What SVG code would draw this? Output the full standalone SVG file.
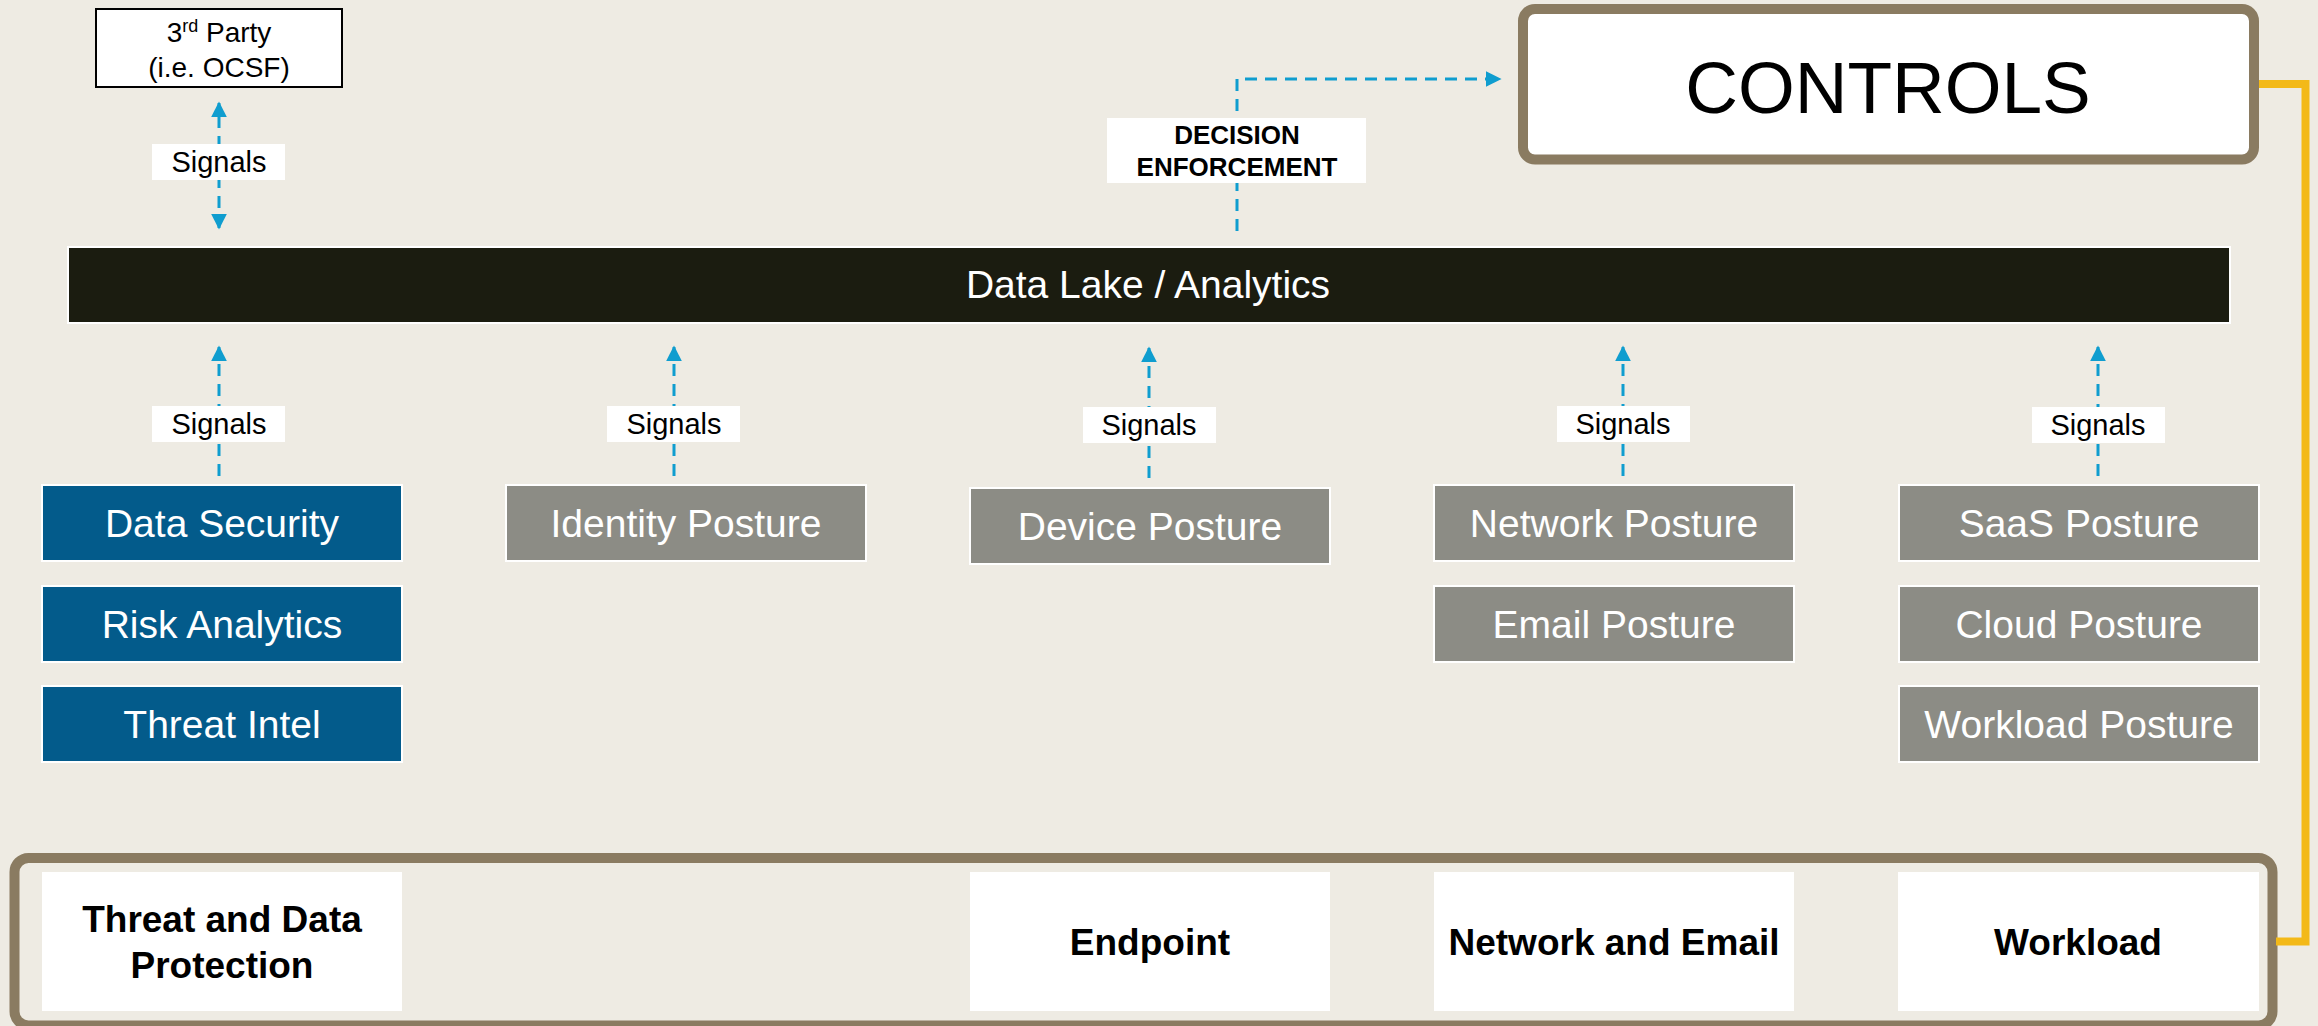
<svg xmlns="http://www.w3.org/2000/svg" width="2318" height="1026" viewBox="0 0 2318 1026">
  <defs>
    <marker id="tip" viewBox="0 0 10 10" refX="9" refY="5" markerWidth="16" markerHeight="16" markerUnits="userSpaceOnUse" orient="auto-start-reverse">
      <path d="M0,0 L10,5 L0,10 Z" fill="#0f9dcf"/>
    </marker>
    <style>
      text { font-family: "Liberation Sans", Arial, sans-serif; }
      .sig { stroke: #0f9dcf; stroke-width: 3; stroke-dasharray: 12 8; fill: none; }
      .lbl { fill: #ffffff; }
      .lbltxt { font-size: 29px; fill: #000; text-anchor: middle; }
      .blue { fill: #035b8b; stroke: #ffffff; stroke-width: 2; }
      .gray { fill: #8c8c85; stroke: #ffffff; stroke-width: 2; }
      .wtxt { font-size: 39px; fill: #ffffff; text-anchor: middle; }
      .btxt { font-size: 37px; font-weight: bold; fill: #000; text-anchor: middle; }
      .frame { fill: none; stroke: #8a7b61; stroke-width: 10; }
      .yel { fill: none; stroke: #f3b918; stroke-width: 8; stroke-linejoin: miter; }
    </style>
  </defs>

  <rect width="2318" height="1026" fill="#eeebe3"/>

  <!-- bottom frame -->
  <rect class="frame" x="14.5" y="858" width="2258" height="167.5" rx="14"/>

  <!-- connectors -->
  <g id="connectors">
    <path class="yel" d="M2255,84 H2305.5 V941.5 H2276"/>
    <line class="sig" x1="219" y1="228" x2="219" y2="103" marker-start="url(#tip)" marker-end="url(#tip)"/>
    <path class="sig" d="M1237,231 V79 H1500" marker-end="url(#tip)"/>
    <line class="sig" x1="219" y1="476" x2="219" y2="347" marker-end="url(#tip)"/>
    <line class="sig" x1="674" y1="476" x2="674" y2="347" marker-end="url(#tip)"/>
    <line class="sig" x1="1149" y1="478" x2="1149" y2="348" marker-end="url(#tip)"/>
    <line class="sig" x1="1623" y1="476" x2="1623" y2="347" marker-end="url(#tip)"/>
    <line class="sig" x1="2098" y1="476" x2="2098" y2="347" marker-end="url(#tip)"/>

    <!-- connector labels -->
    <rect class="lbl" x="152" y="144" width="133" height="36"/>
    <text class="lbltxt" x="219" y="172">Signals</text>
    <rect class="lbl" x="1107" y="118" width="259" height="65"/>
    <text x="1237" y="144" font-size="26" font-weight="bold" text-anchor="middle">DECISION</text>
    <text x="1237" y="176" font-size="26" font-weight="bold" text-anchor="middle">ENFORCEMENT</text>
    <rect class="lbl" x="152" y="406" width="133" height="36"/>
    <text class="lbltxt" x="219" y="434">Signals</text>
    <rect class="lbl" x="607" y="406" width="133" height="36"/>
    <text class="lbltxt" x="674" y="434">Signals</text>
    <rect class="lbl" x="1083" y="407" width="133" height="36"/>
    <text class="lbltxt" x="1149" y="435">Signals</text>
    <rect class="lbl" x="1557" y="406" width="133" height="36"/>
    <text class="lbltxt" x="1623" y="434">Signals</text>
    <rect class="lbl" x="2032" y="407" width="133" height="36"/>
    <text class="lbltxt" x="2098" y="435">Signals</text>
  </g>

  <g id="third-party">
    <rect x="96" y="9" width="246" height="78" fill="#ffffff" stroke="#000" stroke-width="2"/>
    <text x="219" y="42" font-size="28" text-anchor="middle">3<tspan font-size="18" dy="-10">rd</tspan><tspan dy="10"> Party</tspan></text>
    <text x="219" y="77" font-size="28" text-anchor="middle">(i.e. OCSF)</text>
  </g>

  <g id="controls">
    <rect x="1523" y="9" width="731" height="150.5" rx="12" fill="#ffffff" stroke="#8a7b61" stroke-width="10"/>
    <text x="1888" y="113" font-size="73" text-anchor="middle">CONTROLS</text>
  </g>

  <g id="data-lake">
    <rect x="68" y="247" width="2162" height="76" fill="#1b1c10" stroke="#ffffff" stroke-width="2"/>
    <text class="wtxt" x="1148" y="298">Data Lake / Analytics</text>
  </g>

  <g id="data-security">
    <rect class="blue" x="42" y="485" width="360" height="76"/>
    <text class="wtxt" x="222" y="537">Data Security</text>
  </g>
  <g id="risk-analytics">
    <rect class="blue" x="42" y="586" width="360" height="76"/>
    <text class="wtxt" x="222" y="638">Risk Analytics</text>
  </g>
  <g id="threat-intel">
    <rect class="blue" x="42" y="686" width="360" height="76"/>
    <text class="wtxt" x="222" y="738">Threat Intel</text>
  </g>

  <g id="identity-posture">
    <rect class="gray" x="506" y="485" width="360" height="76"/>
    <text class="wtxt" x="686" y="537">Identity Posture</text>
  </g>
  <g id="device-posture">
    <rect class="gray" x="970" y="488" width="360" height="76"/>
    <text class="wtxt" x="1150" y="540">Device Posture</text>
  </g>
  <g id="network-posture">
    <rect class="gray" x="1434" y="485" width="360" height="76"/>
    <text class="wtxt" x="1614" y="537">Network Posture</text>
  </g>
  <g id="email-posture">
    <rect class="gray" x="1434" y="586" width="360" height="76"/>
    <text class="wtxt" x="1614" y="638">Email Posture</text>
  </g>
  <g id="saas-posture">
    <rect class="gray" x="1899" y="485" width="360" height="76"/>
    <text class="wtxt" x="2079" y="537">SaaS Posture</text>
  </g>
  <g id="cloud-posture">
    <rect class="gray" x="1899" y="586" width="360" height="76"/>
    <text class="wtxt" x="2079" y="638">Cloud Posture</text>
  </g>
  <g id="workload-posture">
    <rect class="gray" x="1899" y="686" width="360" height="76"/>
    <text class="wtxt" x="2079" y="738">Workload Posture</text>
  </g>

  <g id="threat-data-protection">
    <rect x="42" y="872" width="360" height="139" fill="#ffffff"/>
    <text class="btxt" x="222" y="932">Threat and Data</text>
    <text class="btxt" x="222" y="978">Protection</text>
  </g>
  <g id="endpoint">
    <rect x="970" y="872" width="360" height="139" fill="#ffffff"/>
    <text class="btxt" x="1150" y="955">Endpoint</text>
  </g>
  <g id="network-email">
    <rect x="1434" y="872" width="360" height="139" fill="#ffffff"/>
    <text class="btxt" x="1614" y="955">Network and Email</text>
  </g>
  <g id="workload">
    <rect x="1898" y="872" width="361" height="139" fill="#ffffff"/>
    <text class="btxt" x="2078" y="955">Workload</text>
  </g>
</svg>
